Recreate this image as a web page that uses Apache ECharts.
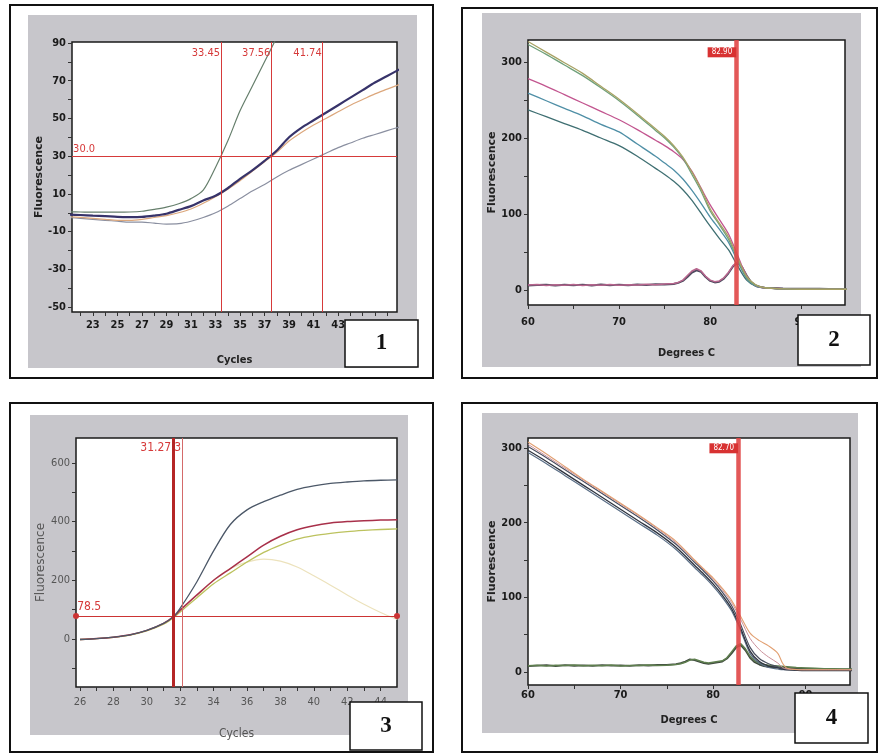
<!DOCTYPE html>
<html><head><meta charset="utf-8">
<script src="https://cdn.jsdelivr.net/npm/echarts@6/dist/echarts.min.js"></script>
<style>html,body{margin:0;padding:0;background:#fff}#c{width:880px;height:755px}</style>
</head><body><div id="c"></div>
<script>
// ---------- Panel 1 : amplification (Cycles) ----------
const cycles1 = [21,22,23,24,25,26,27,28,29,30,31,32,33,34,35,36,37,38,39,40,41,42,43,44,45,46,47,48];
const p1Green  = [0.5,0.4,0.3,0.3,0.3,0.4,0.8,1.8,3,4.8,7.5,12,24,38,54,67,80,93,null,null,null,null,null,null,null,null,null,null];
const p1Dark   = [-1,-1.2,-1.5,-1.8,-2.2,-2.3,-2.2,-1.5,-0.5,1.5,3.5,6.5,9,13,18,22.5,27.5,33,40,45,49,53,57,61,65,69,72.5,76];
const p1Orange = [-2,-2.5,-3,-3.5,-4,-4,-3.5,-2.5,-1.5,0,2,5,8.5,12.5,17,22,27,32,38,42.5,46.5,50,53.5,57,60,63,65.5,68];
const p1Lower  = [-2.5,-3,-3.5,-4,-4.5,-5,-5,-5.5,-6,-5.8,-4.5,-2.5,0,3.5,7.5,11.5,15,19,22.5,25.5,28.5,31.5,34.5,37,39.5,41.5,43.5,45.5];
const p1Threshold = 30;
const p1Ct = [33.45, 37.56, 41.74];
const p1XLabels = [23,25,27,29,31,33,35,37,39,41,43];
const p1XTicks = [22,23,24,25,26,27,28,29,30,31,32,33,34,35,36,37,38,39,40,41,42,43,44,45,46,47];
const p1YLabels = [-50,-30,-10,10,30,50,70,90];
const p1YTicks = [-50,-40,-30,-20,-10,0,10,20,30,40,50,60,70,80,90];

// ---------- Panel 2 : melt curve (Degrees C) ----------
const temps2 = [60,62,64,66,68,70,72,74,75,76,77,78,79,80,81,82,83,84,85,86,88,90,92,95];
const p2A = [327,313,299,285,268,251,232,212,202,190,175,155,133,107,88,70,43,18,7,3,1.5,1,1,1];
const p2B = [323,310,296,282,266,249,230,210,200,188,173,152,130,104,86,67,41,16,6,3,1.5,1,1,1];
const p2C = [278,268,257,246,235,224,211,197,190,182,172,156,134,112,93,74,46,18,6,3,1.5,1,1,1];
const p2D = [259,249,239,229,218,208,192,176,167,158,146,131,114,96,80,63,38,15,5,3,1.5,1,1,1];
const p2E = [237,228,219,210,200,190,176,160,152,143,132,118,101,84,68,53,32,13,5,3,1.5,1,1,1];
const dTemps = [60,61,62,63,64,65,66,67,68,69,70,71,72,73,74,75,76,76.5,77,77.5,78,78.5,79,79.5,80,80.5,81,81.5,82,82.5,83,83.5,84,84.5,85,85.5,86,87,88,89,90,91,92,93,94,95];
const p2DerivPink = [6.5,7.2,6.0,7.0,6.3,7.4,6.1,6.9,6.4,7.3,6.2,7.0,6.6,7.5,6.8,7.8,8.5,10,13,19,25,28,25,18,13,11,12,16,23,32,37,31,18,9,5,3.5,2.8,2.2,1.8,1.6,1.5,1.5,1.4,1.5,1.4,1.4];
const p2DerivDark = [5.8,6.6,6.9,5.9,6.8,6.2,7.1,6.0,7.2,6.3,7.1,6.4,7.3,6.7,7.6,7.2,8.0,9.5,12,17,23,26,24,17,12,10,11,15,22,31,36,30,19,10,6,4,3,2.5,2,1.8,1.7,1.6,1.6,1.5,1.5,1.5];
const p2Tm = 82.86;
const p2TmLabel = '82.90';
const p2XLabels = [60,70,80,90];
const p2XTicks = [60,65,70,75,80,85,90];
const p2YLabels = [0,100,200,300];
const p2YTicks = [0,50,100,150,200,250,300];

// ---------- Panel 3 : amplification (Cycles) ----------
const cycles3 = [26,27,28,29,30,31,31.6,32,33,34,35,36,37,38,39,40,41,42,43,44,45];
const p3Dark   = [-2,1,6,14,29,53,76,105,195,300,390,440,468,490,510,522,530,535,539,541,542];
const p3Red    = [-2,1,6,14,29,53,76,98,150,200,240,280,320,350,372,386,395,400,403,405,406];
const p3Yellow = [-2,1,5,13,27,50,72,92,140,188,225,262,295,320,340,352,360,366,370,373,375];
const p3Faint  = [null,null,null,null,null,null,null,null,145,200,240,262,272,265,245,215,183,150,118,90,66];
const p3Threshold = 78.5;
const p3Ct = [31.58, 32.12];
const p3XLabels = [26,28,30,32,34,36,38,40,42,44];
const p3XTicks = [26,27,28,29,30,31,32,33,34,35,36,37,38,39,40,41,42,43,44];
const p3YLabels = [0,200,400,600];
const p3YTicks = [-100,0,100,200,300,400,500,600];

// ---------- Panel 4 : melt curve (Degrees C) ----------
const temps4 = [60,62,64,66,68,70,72,74,76,78,79,80,81,82,83,84,85,86,87,87.5,88,90,92,95];
const p4Orange = [308,292,275,258,242,226,210,193,175,150,138,126,112,96,74,52,42,35,25,12,5,3,3,3];
const p4A = [302,287,271,255,239,223,207,190,171,147,135,122,107,89,63,33,18,11,7,5,4,3,3,3];
const p4B = [297,282,266,250,234,218,202,186,167,143,131,118,103,85,58,28,14,8,6,4,3,2,2,2];
const p4C = [294,279,263,247,231,215,199,183,164,140,128,115,100,82,55,25,12,6,4,3,3,2,2,2];
const p4D = [305,289,273,257,241,225,209,192,173,149,137,124,110,93,70,45,30,20,12,6,4,3,3,3];
const p4DerivGreen = [8.5,9.2,8.1,9.0,8.6,9.4,8.3,8.9,8.5,9.3,8.2,8.8,8.6,9.5,8.8,9.0,10,11,13,16,17,15,13,12,13,14,15,19,27,35,38,31,21,15,12,10,9,8,7,6,5.5,5,4.5,4.5,4,4];
const p4DerivDark = [7.8,8.6,9.1,8.0,9.2,8.4,9.0,8.1,9.3,8.6,9.0,8.3,9.2,8.7,9.4,9.6,10.5,12,14,17,16,14,12,11,12,13,14,18,25,33,36,29,19,13,10,8,7,6,5.5,5,4.5,4,4,3.5,3.5,3.5];
const p4Tm = 82.7;
const p4TmLabel = '82.70';

const panelNumbers = ['1','2','3','4'];

// ---------- build ----------
const NARROW = '"Liberation Sans Narrow","DejaVu Sans Condensed","Arial Narrow","Liberation Sans",sans-serif';
const RED = '#d63a3a';

function pts(xs, ys){ const o=[]; for(let i=0;i<xs.length;i++){ if(ys[i]!=null) o.push([xs[i], ys[i]]); } return o; }
function line(gi, xs, ys, color, width, extra){
  return Object.assign({type:'line', xAxisIndex:gi, yAxisIndex:gi, data:pts(xs,ys), showSymbol:false, symbol:'none',
    lineStyle:{color:color, width:width}, itemStyle:{color:color}, smooth:0.3, silent:true, animation:false, z:3}, extra||{});
}
function tmLabel(x, y, text, dy){
  return {coord:[x,y], symbol:'circle', symbolSize:0, label:{show:true, formatter:text, position:[0,dy], align:'right',
    backgroundColor:'#d83232', color:'#fff', fontSize:8, padding:[1,4], fontFamily:NARROW}};
}
function redText(x, y, text, pos, align, size){
  return {coord:[x,y], symbol:'circle', symbolSize:0, label:{show:true, formatter:text, position:pos, align:align,
    color:RED, fontSize:size, fontFamily:NARROW}};
}

function xAxisCfg(gi, min, max, labels, ticks, name, gap, margin, style){
  return {gridIndex:gi, type:'value', min:min, max:max,
    axisLine:{show:false, onZero:false}, splitLine:{show:false},
    axisTick:{show:true, customValues:ticks, length:4, lineStyle:{color:'#333', width:1}},
    axisLabel:{customValues:labels, margin:margin, fontFamily:NARROW, fontSize:11, fontWeight:style.w, color:style.c},
    name:name, nameLocation:'middle', nameGap:gap,
    nameTextStyle:{fontFamily:NARROW, fontSize:style.ns, fontWeight:style.w, color:style.nc}};
}
function yAxisCfg(gi, min, max, labels, ticks, gap, style){
  return {gridIndex:gi, type:'value', min:min, max:max,
    axisLine:{show:false, onZero:false}, splitLine:{show:false},
    axisTick:{show:true, customValues:ticks, length:4, lineStyle:{color:'#333', width:1}},
    axisLabel:{customValues:labels, margin:6, fontFamily:NARROW, fontSize:11, fontWeight:style.w, color:style.c},
    name:'Fluorescence', nameLocation:'middle', nameGap:gap, nameRotate:90,
    nameTextStyle:{fontFamily:'"DejaVu Sans","Liberation Sans",sans-serif', fontSize:style.yn, fontWeight:style.w, color:style.nc}};
}
const bold = {w:'bold', c:'#1a1a1a', ns:11, nc:'#222', yn:11};
const light = {w:'normal', c:'#555', ns:12, nc:'#555', yn:12};

const grids = [
  {left:72, top:42, width:325, height:270},
  {left:528, top:40, width:317, height:265},
  {left:76, top:438, width:321, height:249},
  {left:528, top:438, width:322, height:247}
].map(g => Object.assign(g, {show:true, backgroundColor:'#fff', borderColor:'#1a1a1a', borderWidth:1.5, containLabel:false}));

const xAxes = [
  xAxisCfg(0, 21.3, 47.8, p1XLabels, p1XTicks, 'Cycles', 43, 8, bold),
  xAxisCfg(1, 60, 94.8, p2XLabels, p2XTicks, 'Degrees C', 43, 12, bold),
  xAxisCfg(2, 25.76, 44.98, p3XLabels, p3XTicks, 'Cycles', 41, 10, light),
  xAxisCfg(3, 60, 94.8, p2XLabels, p2XTicks, 'Degrees C', 30, 5, bold)
];
const yAxes = [
  yAxisCfg(0, -52.6, 90.5, p1YLabels, p1YTicks, 25, bold),
  yAxisCfg(1, -19.7, 328.9, p2YLabels, p2YTicks, 28, bold),
  yAxisCfg(2, -164, 685, p3YLabels, p3YTicks, 28, light),
  yAxisCfg(3, -17.4, 313.4, p2YLabels, p2YTicks, 28, bold)
];

const series = [
  // Panel 1
  line(0, cycles1, p1Lower, '#8a8fa0', 1.2, {
    markLine:{silent:true, symbol:'none', animation:false, label:{show:false},
      lineStyle:{color:RED, width:1, type:'solid'},
      data:[{yAxis:p1Threshold}].concat(p1Ct.map(v=>({xAxis:v})))},
    markPoint:{silent:true, animation:false,
      data:[redText(21.31, p1Threshold, p1Threshold.toFixed(1), [1,-13], 'left', 11)]
        .concat(p1Ct.map(v=>redText(v, 90.4, v.toFixed(2), [-1,5], 'right', 11)))}
  }),
  line(0, cycles1, p1Orange, '#dca77c', 1.2),
  line(0, cycles1, p1Green, '#667f6c', 1.2),
  line(0, cycles1, p1Dark, '#37336a', 2.2),
  // Panel 2
  line(1, dTemps, p2DerivDark, '#4d4a5e', 2, {smooth:false}),
  line(1, dTemps, p2DerivPink, '#b8668e', 1.5, {smooth:false}),
  line(1, temps2, p2E, '#3f6f72', 1.3),
  line(1, temps2, p2D, '#4f8fa6', 1.3),
  line(1, temps2, p2C, '#c2558f', 1.3),
  line(1, temps2, p2B, '#6fa07a', 1.3),
  line(1, temps2, p2A, '#a8a264', 1.3, {
    markLine:{silent:true, symbol:'none', animation:false, label:{show:false},
      lineStyle:{color:'#e04646', width:4.5, type:'solid', opacity:0.9}, data:[{xAxis:p2Tm}]},
    markPoint:{silent:true, animation:false, data:[tmLabel(p2Tm, 328.5, p2TmLabel, 7)]}
  }),
  // Panel 3
  line(2, cycles3, p3Faint, '#ece2bc', 1.2),
  line(2, cycles3, p3Yellow, '#bcc25e', 1.3, {
    markLine:{silent:true, animation:false, label:{show:false}, symbol:['circle','circle'], symbolSize:6,
      lineStyle:{color:'#cc3434', width:1.2, type:'solid'}, data:[{yAxis:p3Threshold}]}
  }),
  line(2, cycles3, p3Red, '#a8304a', 1.5, {
    markLine:{silent:true, animation:false, label:{show:false}, symbol:'none', symbolSize:0,
      data:[
        {xAxis:p3Ct[0], lineStyle:{color:'#b52626', width:3, type:'solid'}},
        {xAxis:p3Ct[1], lineStyle:{color:'#d46a6a', width:1, type:'solid'}}
      ]}
  }),
  line(2, cycles3, p3Dark, '#4c5868', 1.3, {
    markPoint:{silent:true, animation:false,
      data:[redText(25.77, p3Threshold, String(p3Threshold), [1,-15], 'left', 12),
            redText(p3Ct[0], 684, '31.27', [-2,4], 'right', 12),
            redText(p3Ct[1], 684, '3', [-1,4], 'right', 12)]}
  }),
  // Panel 4
  line(3, dTemps, p4DerivDark, '#3f4a3f', 1.8, {smooth:false}),
  line(3, dTemps, p4DerivGreen, '#5f7f4f', 1.5, {smooth:false}),
  line(3, temps4, p4C, '#5a6e86', 1.2),
  line(3, temps4, p4B, '#2f3440', 1.3),
  line(3, temps4, p4A, '#4a5060', 1.2),
  line(3, temps4, p4D, '#c9909a', 1.0),
  line(3, temps4, p4Orange, '#e2a072', 1.1, {
    markLine:{silent:true, symbol:'none', animation:false, label:{show:false},
      lineStyle:{color:'#e04646', width:4.5, type:'solid', opacity:0.9}, data:[{xAxis:p4Tm}]},
    markPoint:{silent:true, animation:false, data:[tmLabel(p4Tm, 313, p4TmLabel, 5)]}
  })
];

// frames, gray panels and number boxes (decoration)
const frames = [
  {f:[10,5,423,373], g:[28,15,389,353], b:[345,320,73,47]},
  {f:[462,8,415,370], g:[482,13,379,354], b:[798,315,72,50]},
  {f:[10,403,423,349], g:[30,415,378,320], b:[350,702,72,48]},
  {f:[462,403,415,349], g:[482,413,376,320], b:[795,693,73,50]}
];
const graphics = [];
frames.forEach((p,i)=>{
  graphics.push({type:'rect', z:-20, silent:true, shape:{x:p.f[0],y:p.f[1],width:p.f[2],height:p.f[3]}, style:{fill:'#fff', stroke:'#111', lineWidth:2}});
  graphics.push({type:'rect', z:-19, silent:true, shape:{x:p.g[0],y:p.g[1],width:p.g[2],height:p.g[3]}, style:{fill:'#c7c6cb'}});
  graphics.push({type:'rect', z:100, silent:true, shape:{x:p.b[0],y:p.b[1],width:p.b[2],height:p.b[3]}, style:{fill:'#fff', stroke:'#111', lineWidth:1.5}});
  graphics.push({type:'text', z:101, silent:true, x:p.b[0]+p.b[2]/2, y:p.b[1]+p.b[3]/2,
    style:{text:panelNumbers[i], font:'bold 23px "Liberation Serif","DejaVu Serif",serif', fill:'#111', textAlign:'center', textVerticalAlign:'middle'}});
});

const chart = echarts.init(document.getElementById('c'), null, {renderer:'canvas'});
chart.setOption({
  animation:false,
  backgroundColor:'#fff',
  grid:grids, xAxis:xAxes, yAxis:yAxes, series:series,
  graphic:{elements:graphics}
});
</script></body></html>
